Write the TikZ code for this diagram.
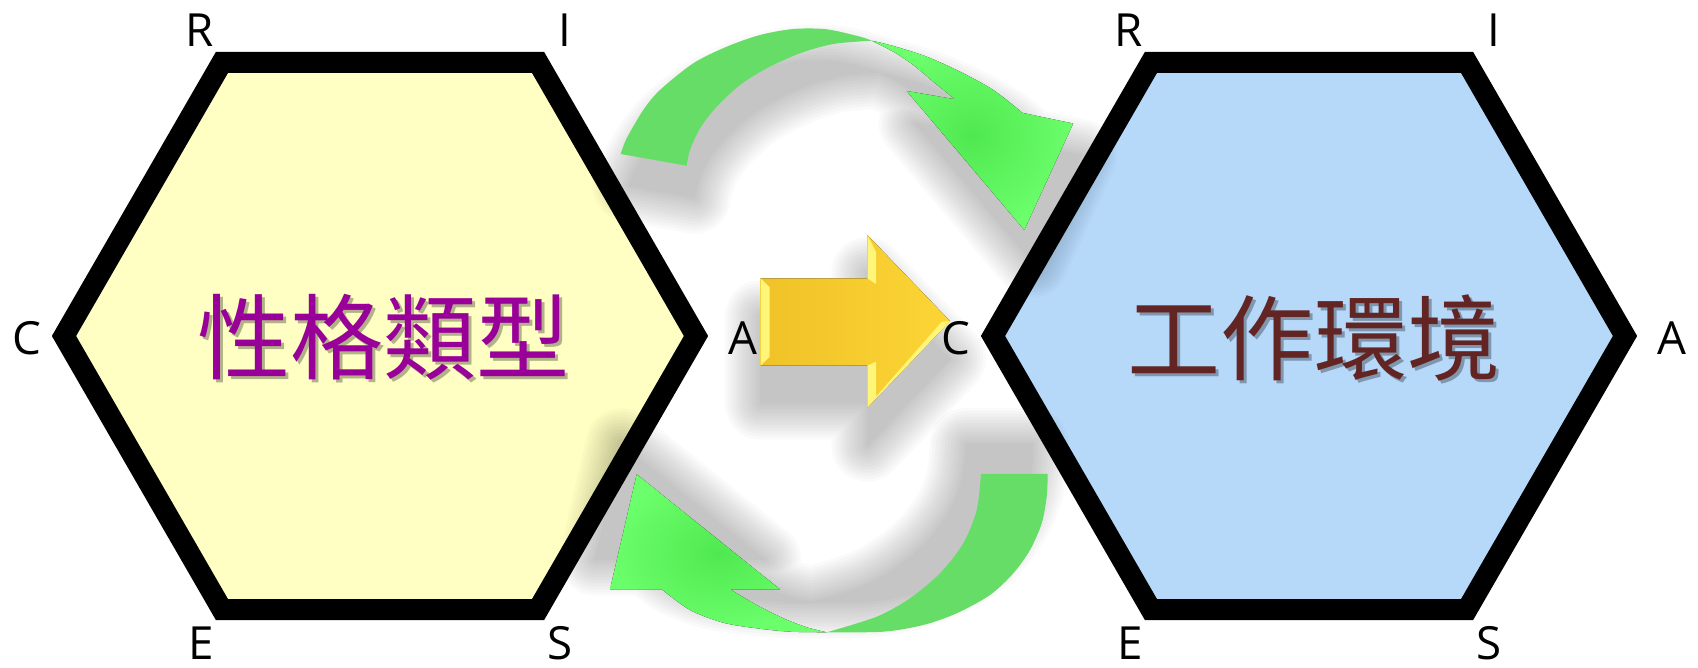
\documentclass[tikz,border=0pt]{standalone}
\usepackage{fontspec}
\setmainfont{Open Sans}
\newfontfamily\cjkfont{Noto Sans CJK TC}
\usepackage{tikz}
\usetikzlibrary{positioning}
\definecolor{hexyellow}{HTML}{FFFFC3}
\definecolor{hexblue}{HTML}{B6D9FA}
\definecolor{txtpurple}{HTML}{990099}
\definecolor{txtbrown}{HTML}{632523}
\definecolor{grdark}{HTML}{66DD66}
\definecolor{grlight}{HTML}{6BFF6B}
\definecolor{grmid}{HTML}{50E850}
\definecolor{goldA}{HTML}{FCD535}
\definecolor{goldB}{HTML}{F0C228}
\definecolor{goldbevel}{HTML}{FFF578}
\tikzset{
  hexframe/.style={draw=black,line width=0.42cm,line join=miter},
  corner/.style={font=\fontsize{26}{30}\selectfont,inner sep=0pt,text=black},
  bigtext/.style={font=\cjkfont\fontsize{53}{60}\selectfont,inner sep=0pt},
  backband/.style={fill=grdark},
  frontband/.style={inner color=grmid,outer color=grlight},
  goldarrow/.style={left color=goldB,right color=goldA},
  bevel/.style={fill=goldbevel},
  shadowlayer/.style={fill=black,draw=black,line join=round},
}
% outlines of the arrows (pixel units)
\newcommand\topback{plot[smooth] coordinates {(620.7,154) (626.7,138.3) (643.3,110) (660,90) (693.3,63.3) (726.7,46.7) (760,35) (793.3,29) (826.7,29.3) (860,36.7) (871.7,40.7)}
  -- plot[smooth] coordinates {(871.7,40.7) (833.3,44) (800,53.3) (766.7,68.3) (740,85) (716.7,106.7) (700,128.3) (690,150) (686.7,165.7)} -- cycle}
\newcommand\topfront{plot[smooth] coordinates {(871.7,40.7) (893.3,46) (926.7,56.7) (960,71.7) (993.3,90) (1022.5,112.9)}
  -- (1073.2,123.5) -- (1024.3,230) -- (906.7,91) -- (955,99.3)
  -- plot[smooth] coordinates {(955,99.3) (933.3,81.7) (913.3,65) (893.3,51.7) (871.7,40.7)} -- cycle}
\newcommand\botback{plot[smooth] coordinates {(1047.7,474) (1046.7,496.7) (1041.7,523.3) (1030,550) (1013.3,573.3) (990,595) (956.7,613.3) (923.3,625) (883.3,631.7) (826.7,632.3)}
  -- plot[smooth] coordinates {(826.7,632.3) (876.7,616.7) (910,598.3) (940,573.3) (963.3,543.3) (976.7,510) (981,474)} -- cycle}
\newcommand\botfront{plot[smooth] coordinates {(826.7,632.3) (790,631.7) (756.7,628.3) (723.3,622.7) (690,610) (661.7,589.3)}
  -- (610,589.3) -- (636.7,474.3) -- (780,589.3) -- (730,589.3)
  -- plot[smooth] coordinates {(730,589.3) (756.7,605) (783.3,618.3) (806.7,627.3) (826.7,632.3)} -- cycle}
\newcommand\goldpath{(760.7,278.3) -- (867.3,278.3) -- (867.3,235) -- (950,321) -- (867.3,407.7) -- (867.3,365.7) -- (760.7,365.7) -- cycle}
% soft shadow: #1 shift, #2 outline
\newcommand\blurshadow[2]{%
  \foreach \w in {72,66,...,0}{%
    \begin{scope}[shift={#1},transparency group,opacity=0.02]
      \path[shadowlayer,line width=\w*0.02cm] #2;
    \end{scope}}}

\begin{document}
\begin{tikzpicture}[x=0.02cm,y=-0.02cm]
  \useasboundingbox (0,0) rectangle (1698,668);
  \coordinate (hexL) at (380,336);
  \coordinate (hexR) at (1309,336);
  % hexagons
  \foreach \c/\col in {hexL/hexyellow,hexR/hexblue}
    \draw[hexframe,fill=\col,shift={(\c)}] (0:316) -- (60:316) -- (120:316) -- (180:316) -- (240:316) -- (300:316) -- cycle;
  % corner letters
  \foreach \c/\h in {hexL/L,hexR/R}{
    \begin{scope}[shift={(\c)}]
      \node[corner] (R-\h) at (-180,-306) {R};
      \node[corner] (I-\h) at (185,-306) {I};
      \node[corner] (C-\h) at (-353,2) {C};
      \node[corner] (A-\h) at (363,2) {A};
      \node[corner] (E-\h) at (-179,307) {E};
      \node[corner] (S-\h) at (180,307) {S};
    \end{scope}
  }
  % shadows
  \blurshadow{(8,32)}{\topback \topfront}
  \blurshadow{(-15,-30)}{\botback \botfront}
  \blurshadow{(0,38)}{\goldpath}
  % green arrows
  \fill[backband] \topback;
  \fill[frontband] \topfront;
  \fill[backband] \botback;
  \fill[frontband] \botfront;
  % yellow arrow
  \fill[goldarrow] \goldpath;
  \fill[bevel] (760.7,278.3) -- (769.5,287) -- (769.5,357) -- (760.7,365.7) -- cycle;
  \fill[bevel] (867.3,235) -- (876,252) -- (876,284) -- (867.3,278.3) -- cycle;
  \fill[bevel] (867.3,365.7) -- (876,361.7) -- (876,396.7) -- (867.3,407.7) -- cycle;
  \fill[bevel] (867.3,407.7) -- (876,396.7) -- (941.5,322) -- (950,321) -- cycle;
  % titles
  \node[bigtext,text=black,opacity=0.3] (typeshadow) at (386.5,340.5) {性格類型};
  \node[bigtext,text=txtpurple] (type) at (383.5,337.6) {性格類型};
  \node[bigtext,text=black,opacity=0.3] (envshadow) at (1317,340.5) {工作環境};
  \node[bigtext,text=txtbrown] (env) at (1314,337.6) {工作環境};
\end{tikzpicture}
\end{document}
